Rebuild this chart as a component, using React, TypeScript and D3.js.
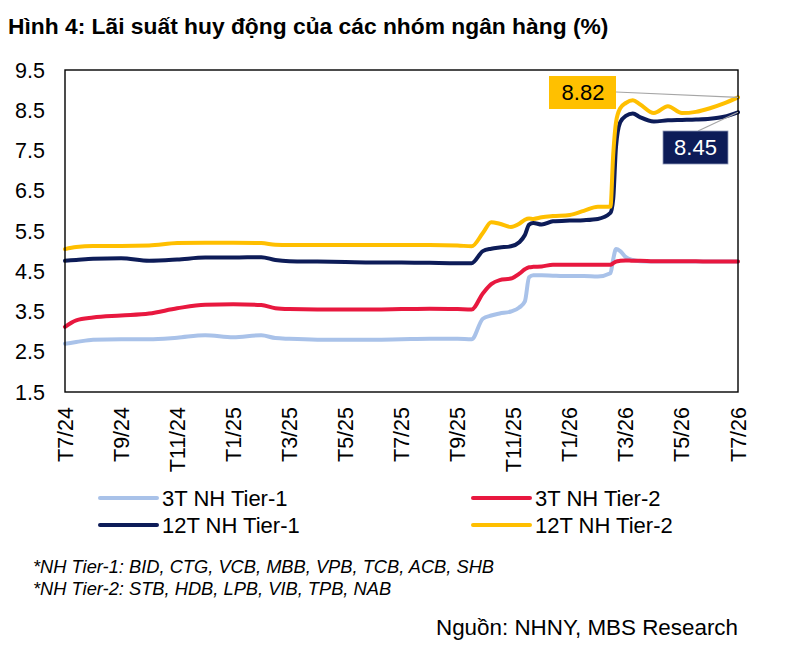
import * as d3 from 'd3';
import React from 'react';

// x positions are month offsets from T7/24
const months = [
  0, 0.4, 1, 2, 3, 4, 5, 6, 7, 7.5, 8, 9, 10, 11, 12, 13, 14, 14.5, 14.9, 15.2, 15.5,
  15.9, 16.2, 16.4, 16.55, 16.7, 17, 17.4, 18, 18.5, 19, 19.45, 19.55, 19.65, 19.8, 20,
  20.25, 20.5, 21, 21.5, 22, 22.5, 23, 23.5, 24,
];

const tier1_3m = [
  2.7, 2.74, 2.8, 2.81, 2.81, 2.85, 2.91, 2.86, 2.91, 2.84, 2.82, 2.8, 2.8, 2.8, 2.81, 2.82,
  2.82, 2.81, 3.32, 3.4, 3.45, 3.5, 3.6, 3.75, 4.35, 4.4, 4.4, 4.39, 4.38, 4.38, 4.37, 4.45,
  4.8, 5.05, 5.0, 4.85, 4.78, 4.75, 4.74, 4.74, 4.74, 4.74, 4.74, 4.74, 4.74,
];

const tier2_3m = [
  3.12, 3.28, 3.35, 3.4, 3.45, 3.58, 3.67, 3.68, 3.66, 3.58, 3.56, 3.55, 3.55, 3.55, 3.56,
  3.57, 3.56, 3.55, 3.95, 4.18, 4.28, 4.32, 4.44, 4.55, 4.6, 4.61, 4.62, 4.66, 4.66, 4.66,
  4.66, 4.66, 4.7, 4.74, 4.76, 4.77, 4.76, 4.76, 4.75, 4.75, 4.75, 4.75, 4.74, 4.74, 4.74,
];

const tier1_12m = [
  4.76, 4.78, 4.81, 4.82, 4.76, 4.79, 4.84, 4.84, 4.85, 4.78, 4.75, 4.74, 4.73, 4.72, 4.72,
  4.71, 4.7, 4.7, 5.0, 5.06, 5.09, 5.12, 5.22, 5.4, 5.66, 5.7, 5.66, 5.74, 5.76, 5.77, 5.8,
  5.95, 6.3, 7.6, 8.2, 8.36, 8.42, 8.33, 8.22, 8.25, 8.26, 8.27, 8.29, 8.34, 8.45,
];

const tier2_12m = [
  5.05, 5.1, 5.13, 5.13, 5.14, 5.2, 5.21, 5.21, 5.2, 5.16, 5.15, 5.15, 5.15, 5.15, 5.15,
  5.15, 5.14, 5.12, 5.45, 5.72, 5.68, 5.6, 5.68, 5.78, 5.81, 5.8, 5.84, 5.87, 5.9, 6.0, 6.1,
  6.1, 7.4, 8.2, 8.55, 8.68, 8.75, 8.65, 8.43, 8.6, 8.43, 8.46, 8.55, 8.67, 8.82,
];

const xLabels = [
  'T7/24', 'T9/24', 'T11/24', 'T1/25', 'T3/25', 'T5/25', 'T7/25',
  'T9/25', 'T11/25', 'T1/26', 'T3/26', 'T5/26', 'T7/26',
];
const yTicks = [1.5, 2.5, 3.5, 4.5, 5.5, 6.5, 7.5, 8.5, 9.5];

const series = [
  { name: '3T NH Tier-1', values: tier1_3m, color: '#a9c2e9' },
  { name: '3T NH Tier-2', values: tier2_3m, color: '#e8183f' },
  { name: '12T NH Tier-1', values: tier1_12m, color: '#0d1c58' },
  { name: '12T NH Tier-2', values: tier2_12m, color: '#ffbf00' },
];

const font = "'Liberation Sans', Arial, sans-serif";

export default function App() {
  const left = 65;
  const right = 738;
  const top = 70;
  const bottom = 392;

  const x = d3.scaleLinear().domain([0, 24]).range([left, right]);
  const y = d3.scaleLinear().domain([1.5, 9.5]).range([bottom, top]);

  const line = d3
    .line<number>()
    .x((_, i) => x(months[i]))
    .y((d) => y(d))
    .curve(d3.curveMonotoneX);

  const last = months.length - 1;
  const yEnd = y(tier2_12m[last]);
  const nEnd = y(tier1_12m[last]);

  return (
    <svg
      width={800}
      height={654}
      style={{ position: 'absolute', left: 0, top: 0, background: '#fff' }}
      fontFamily={font}
    >
      <text x={8} y={34} fontSize={22.8} fontWeight="bold" fill="#000">
        Hình 4: Lãi suất huy động của các nhóm ngân hàng (%)
      </text>

      {/* y labels */}
      {yTicks.map((t) => (
        <text key={t} x={45} y={y(t)} dy="0.35em" fontSize={21.5} textAnchor="end">
          {t.toFixed(1)}
        </text>
      ))}

      {/* x labels */}
      {xLabels.map((lab, i) => (
        <text
          key={lab}
          transform={`translate(${x(i * 2)},407) rotate(-90)`}
          dy="0.35em"
          fontSize={21.5}
          textAnchor="end"
        >
          {lab}
        </text>
      ))}

      {series.map((s) => (
        <path
          key={s.name}
          d={line(s.values) || ''}
          fill="none"
          stroke={s.color}
          strokeWidth={4}
          strokeLinejoin="round"
          strokeLinecap="round"
        />
      ))}

      <rect x={left} y={top} width={right - left} height={bottom - top} fill="none" stroke="#000" strokeWidth={1.4} />

      {/* end labels */}
      <line x1={616} y1={92} x2={x(24)} y2={yEnd} stroke="#a6a6a6" strokeWidth={1.2} />
      <rect x={549} y={76} width={67} height={33} fill="#ffc000" />
      <text x={583} y={92.5} dy="0.35em" fontSize={22} textAnchor="middle">
        {tier2_12m[last].toFixed(2)}
      </text>

      <line x1={698} y1={131} x2={x(24)} y2={nEnd} stroke="#a6a6a6" strokeWidth={1.2} />
      <rect x={663} y={131} width={65} height={33} fill="#0d1c58" stroke="#8f98b8" strokeWidth={0.8} />
      <text x={695.5} y={147.5} dy="0.35em" fontSize={22} textAnchor="middle" fill="#fff">
        {tier1_12m[last].toFixed(2)}
      </text>

      {/* legend */}
      {series.map((s, i) => {
        const lx = i % 2 === 0 ? 100 : 473;
        const ly = i < 2 ? 498 : 525;
        return (
          <g key={s.name}>
            <line x1={lx} x2={lx + 57} y1={ly} y2={ly} stroke={s.color} strokeWidth={4} strokeLinecap="round" />
            <text x={lx + 62} y={ly} dy="0.35em" fontSize={22}>
              {s.name}
            </text>
          </g>
        );
      })}

      <text x={33} y={573} fontSize={18.3} fontStyle="italic">
        *NH Tier-1: BID, CTG, VCB, MBB, VPB, TCB, ACB, SHB
      </text>
      <text x={33} y={595} fontSize={18.3} fontStyle="italic">
        *NH Tier-2: STB, HDB, LPB, VIB, TPB, NAB
      </text>

      <text x={738} y={635} fontSize={22.4} textAnchor="end">
        Nguồn: NHNY, MBS Research
      </text>
    </svg>
  );
}
